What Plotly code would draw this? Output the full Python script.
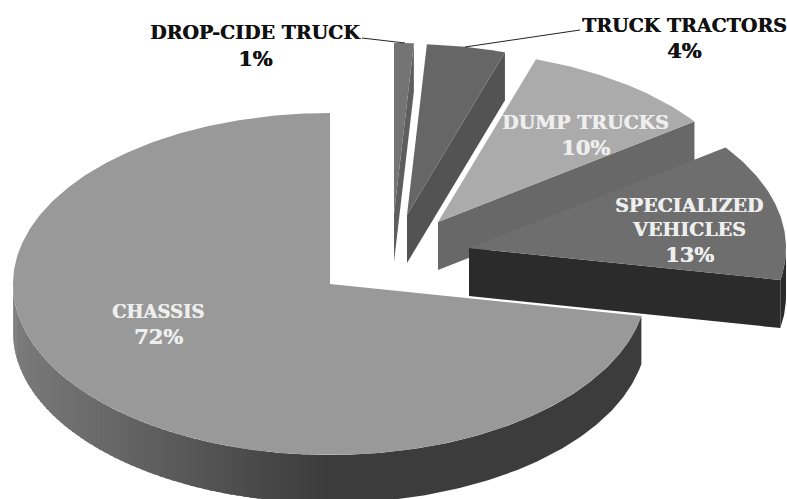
import math
import plotly.graph_objects as go

# ---- data ----
categories = ["DROP-CIDE TRUCK", "TRUCK TRACTORS", "DUMP TRUCKS", "SPECIALIZED VEHICLES", "CHASSIS"]
values = [1, 4, 10, 13, 72]

# ---- drawing set-up ----
apex = [(394, 214), (407, 215), (438, 222), (469, 248), (330, 284)]
top_col = ["#747474", "#666666", "#ababab", "#6e6e6e", "#999999"]
wall_col = ["#5e5e5e", "#535353", "#686868", "#2b2b2b", "#3c3c3c"]
RX, RY, DEPTH = 317, 171, 48
FONT = "DejaVu Serif"

def pt(c, deg, dy=0):
    t = math.radians(deg)
    return c[0] + RX * math.sin(t), c[1] - RY * math.cos(t) + dy

def arc(c, a0, a1, dy=0, n=None):
    n = n or max(4, int(abs(a1 - a0) * 1.5))
    return [pt(c, a0 + (a1 - a0) * i / n, dy) for i in range(n + 1)]

fig = go.Figure()

def poly(points, color):
    xs = [p[0] for p in points] + [points[0][0]]
    ys = [p[1] for p in points] + [points[0][1]]
    fig.add_trace(go.Scatter(x=xs, y=ys, mode="lines", fill="toself", fillcolor=color,
                             line=dict(width=0, color=color), hoverinfo="skip", showlegend=False))

total = sum(values)
start = 0.0
for i, v in enumerate(values):
    a0 = start
    a1 = start + v / total * 360
    start = a1
    c = apex[i]
    if a1 < 180:
        # radial wall seen at the end of the slice
        e = pt(c, a1)
        poly([c, e, (e[0], e[1] + DEPTH), (c[0], c[1] + DEPTH)], wall_col[i])
    # outer wall, front half only
    w0, w1 = max(a0, 90), min(a1, 270)
    if w1 > w0:
        if a1 <= 180:
            poly(arc(c, w0, w1) + arc(c, w1, w0, DEPTH), wall_col[i])
        else:
            poly(arc(c, w0, 180) + arc(c, 180, w0, DEPTH), wall_col[i])
            steps = 70
            for s in range(steps):
                b0 = 180 + 90 * s / steps
                b1 = 180 + 90 * (s + 1.4) / steps
                f = -math.sin(math.radians(b0))
                g = int(0x3c + (0x7c - 0x3c) * f)
                poly(arc(c, b0, min(b1, 270), 0, 3) + arc(c, min(b1, 270), b0, DEPTH, 3),
                     f"rgb({g},{g},{g})")
    poly([c] + arc(c, a0, a1), top_col[i])

# leader lines
for lx, ly in (([362, 405], [38, 43]), ([465, 580], [47, 30])):
    fig.add_trace(go.Scatter(x=lx, y=ly, mode="lines", line=dict(width=1, color="#222222"),
                             hoverinfo="skip", showlegend=False))

def label(x, y, text, color, size=19):
    fig.add_annotation(x=x, y=y, text=text, showarrow=False, xanchor="center", yanchor="middle",
                       font=dict(family=FONT, size=size, color=color, weight="bold",
                                 shadow=f"0.4px 0 0 {color}"))

pct = [f"{round(v / total * 100)}%" for v in values]
P = 21
label(255, 32, categories[0], "#111111"); label(255, 58, pct[0], "#111111", P)
label(684, 25, categories[1], "#111111"); label(684, 50, pct[1], "#111111", P)
label(585, 122, categories[2], "#eeeeee"); label(585, 147, pct[2], "#eeeeee", P)
label(689, 205, "SPECIALIZED", "#eeeeee"); label(689, 229, "VEHICLES", "#eeeeee"); label(689, 254, pct[3], "#eeeeee", P)
label(158, 311, categories[4], "#eeeeee", 18); label(158, 336, pct[4], "#eeeeee", P)

fig.update_layout(width=787, height=499, margin=dict(l=0, r=0, t=0, b=0),
                  paper_bgcolor="white", plot_bgcolor="white", showlegend=False,
                  xaxis=dict(range=[0, 787], visible=False, fixedrange=True),
                  yaxis=dict(range=[499, 0], visible=False, fixedrange=True))
fig.write_html("out.html", config={"displayModeBar": False},
               post_script="document.body.style.margin='0';document.body.style.overflow='hidden';")
